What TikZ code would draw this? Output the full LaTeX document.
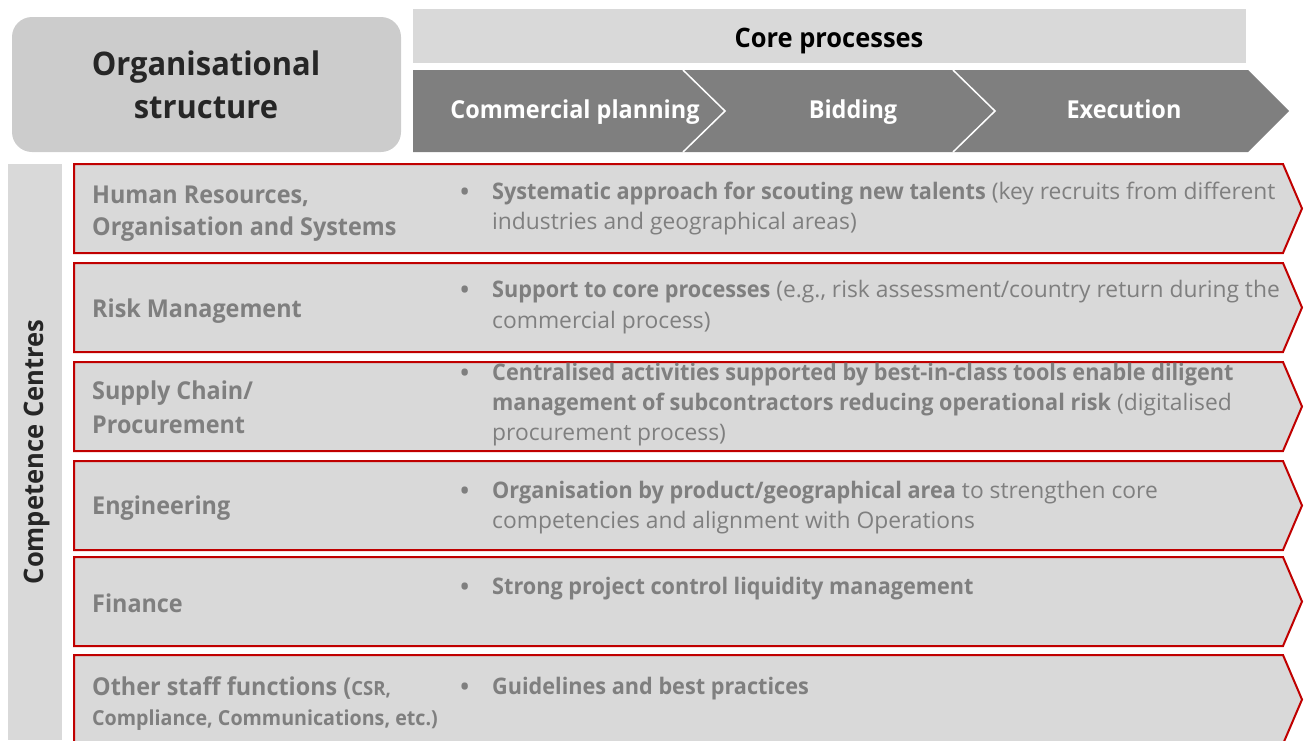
\documentclass[tikz,border=0pt]{standalone}
\usepackage{fontspec}
\setmainfont{Open Sans}[BoldFeatures={FakeStretch=0.95}]
\definecolor{lg}{HTML}{D9D9D9}
\definecolor{mg}{HTML}{CCCCCC}
\definecolor{dg}{HTML}{7F7F7F}
\definecolor{rd}{HTML}{C00000}
\definecolor{tx}{HTML}{262626}
\tikzset{
  rowbox/.style={fill=lg, draw=rd, line width=2pt, line join=miter},
  lbl/.style={anchor=base west, inner sep=0pt, text=dg, font=\bfseries\fontsize{24.6}{30}\selectfont},
  lblsm/.style={anchor=base west, inner sep=0pt, text=dg, font=\bfseries\fontsize{20.7}{24}\selectfont},
  txt/.style={anchor=base west, inner sep=0pt, text=dg, font=\fontsize{22.8}{30}\selectfont},
  bul/.style={anchor=base west, inner sep=0pt, text=dg, font=\fontsize{30}{30}\selectfont, yshift=-3pt},
  chev/.style={anchor=base, inner sep=0pt, text=white, font=\bfseries\fontsize{24.7}{30}\selectfont},
}
\begin{document}
\begin{tikzpicture}[x=1pt,y=-1pt]
\useasboundingbox (0,0) rectangle (1304,740);
% header
\fill[mg, rounded corners=20pt] (12,17) rectangle (401,152);
\node[anchor=base, inner sep=0pt, text=tx, font=\bfseries\fontsize{32.5}{40}\selectfont] (h1) at (206,75) {Organisational};
\node[anchor=base, inner sep=0pt, text=tx, font=\bfseries\fontsize{32.5}{40}\selectfont] (h2) at (206,118) {structure};
\fill[lg] (413,9) rectangle (1246,63);
\node[anchor=base, inner sep=0pt, text=black, font=\bfseries\fontsize{26.8}{30}\selectfont] (cp) at (829,47) {Core processes};
\fill[dg] (413,70) -- (1248,70) -- (1289,111) -- (1248,152) -- (413,152) -- cycle;
\draw[white, line width=1.5pt] (683,70) -- (725,111) -- (683,152);
\draw[white, line width=1.5pt] (953,70) -- (995,111) -- (953,152);
\node[chev] (c1) at (575,118) {Commercial planning};
\node[chev] (c2) at (853,118) {Bidding};
\node[chev] (c3) at (1124,118) {Execution};
% left bar
\fill[lg] (8,164) rectangle (62,740);
\node[rotate=90, inner sep=0pt, text=tx, font=\bfseries\fontsize{26.9}{30}\selectfont] (cc) at (37,452) {Competence Centres};
% rows
\foreach \t in {164,263,362,461,557,655}{
  \draw[rowbox] (74,\t) -- (1283,\t) -- (1302,\t+44.5) -- (1283,\t+89) -- (74,\t+89) -- cycle;
}
% row 1
\node[lbl] (l1a) at (92,203) {Human Resources,};
\node[lbl] (l1b) at (92,235) {Organisation and Systems};
\node[bul] (b1) at (459,199) {•};
\node[txt] (t1a) at (492,199) {\textbf{Systematic approach for scouting new talents} (key recruits from different};
\node[txt] (t1b) at (492,229) {industries and geographical areas)};
% row 2
\node[lbl] (l2) at (92,317) {Risk Management};
\node[bul] (b2) at (459,297) {•};
\node[txt] (t2a) at (492,297) {\textbf{Support to core processes} (e.g., risk assessment/country return during the};
\node[txt] (t2b) at (492,328) {commercial process)};
% row 3
\node[lbl] (l3a) at (92,399) {Supply Chain/};
\node[lbl] (l3b) at (92,433) {Procurement};
\node[bul] (b3) at (459,380) {•};
\node[txt] (t3a) at (492,380) {\textbf{Centralised activities supported by best-in-class tools enable diligent}};
\node[txt] (t3b) at (492,410) {\textbf{management of subcontractors reducing operational risk} (digitalised};
\node[txt] (t3c) at (492,440) {procurement process)};
% row 4
\node[lbl] (l4) at (92,514) {Engineering};
\node[bul] (b4) at (459,498) {•};
\node[txt] (t4a) at (492,498) {\textbf{Organisation by product/geographical area} to strengthen core};
\node[txt] (t4b) at (492,528) {competencies and alignment with Operations};
% row 5
\node[lbl] (l5) at (92,612) {Finance};
\node[bul] (b5) at (459,594) {•};
\node[txt] (t5) at (492,594) {\textbf{Strong project control liquidity management}};
% row 6
\node[lbl] (l6a) at (92,695) {Other staff functions ({\fontsize{19.5}{24}\selectfont CSR,}};
\node[lblsm] (l6b) at (92,725) {Compliance, Communications, etc.)};
\node[bul] (b6) at (459,694) {•};
\node[txt] (t6) at (492,694) {\textbf{Guidelines and best practices}};
\end{tikzpicture}
\end{document}
